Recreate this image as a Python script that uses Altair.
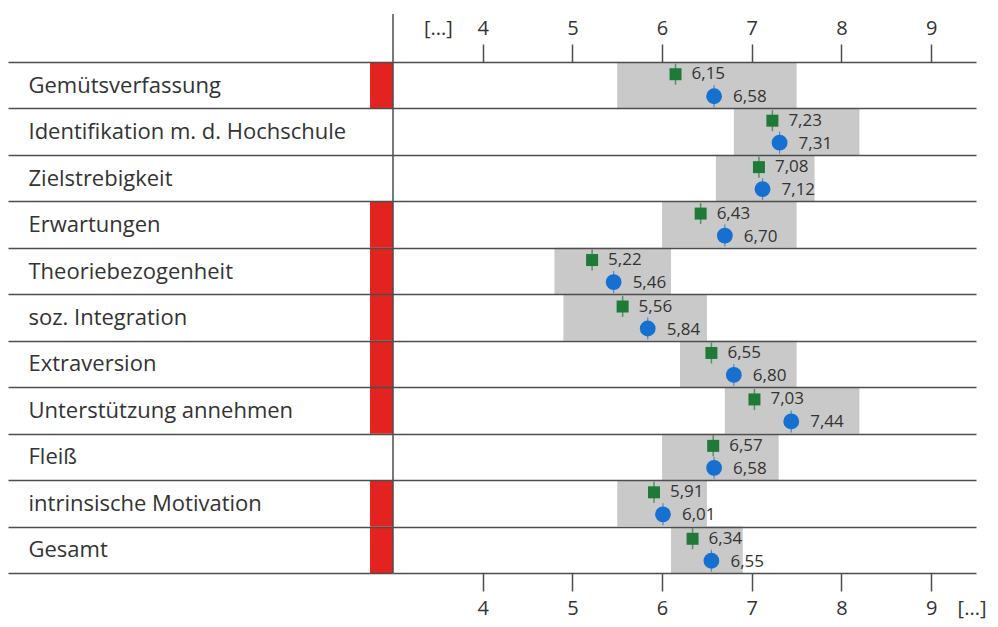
import altair as alt
import pandas as pd

cats = ["Gemütsverfassung", "Identifikation m. d. Hochschule", "Zielstrebigkeit",
        "Erwartungen", "Theoriebezogenheit", "soz. Integration", "Extraversion",
        "Unterstützung annehmen", "Fleiß", "intrinsische Motivation", "Gesamt"]
green_vals = [6.15, 7.23, 7.08, 6.43, 5.22, 5.56, 6.55, 7.03, 6.57, 5.91, 6.34]
blue_vals = [6.58, 7.31, 7.12, 6.70, 5.46, 5.84, 6.80, 7.44, 6.58, 6.01, 6.55]
band_lo = [5.5, 6.8, 6.6, 6.0, 4.8, 4.9, 6.2, 6.7, 6.0, 5.5, 6.1]
band_hi = [7.5, 8.2, 7.7, 7.5, 6.1, 6.5, 7.5, 8.2, 7.3, 6.5, 6.9]
flag = [1, 0, 0, 1, 1, 1, 1, 1, 0, 1, 1]
top_ticks = [3.5, 4, 5, 6, 7, 8, 9]
bottom_ticks = [4, 5, 6, 7, 8, 9, 9.45]

df = pd.DataFrame({
    "cat": cats,
    "green": green_vals,
    "blue": blue_vals,
    "lo": band_lo,
    "hi": band_hi,
    "flag": flag,
    "glab": [f"{v:.2f}".replace(".", ",") for v in green_vals],
    "blab": [f"{v:.2f}".replace(".", ",") for v in blue_vals],
})

FONT = "Open Sans"
LINE = "#4d4d4d"
TXT = "#333333"
GREEN = "#1f7a38"
BLUE = "#1670d0"
RED = "#e32320"
GRAY = "#c9c9c9"

xs = alt.Scale(domain=[3, 9.5], nice=False, zero=False)
ys = alt.Scale(paddingInner=0, paddingOuter=0)

y_axis = alt.Axis(
    orient="left", domain=False, ticks=True, tickBand="extent", tickSize=385,
    tickColor=LINE, tickWidth=1.5, grid=True, gridColor=LINE, gridWidth=1.5,
    labelAlign="left", labelBaseline="middle", labelPadding=-20,
    labelFont=FONT, labelFontSize=22, labelColor=TXT, labelLimit=400, zindex=1,
    title=None,
)

top_axis = alt.Axis(
    orient="top", values=top_ticks, domain=False, grid=False,
    labelExpr="datum.value == 3.5 ? '[...]' : datum.label",
    tickOpacity={"condition": {"test": "datum.value == 3.5", "value": 0}, "value": 1},
    tickSize=18, tickColor=LINE, tickWidth=1.5,
    labelFont=FONT, labelFontSize=20, labelColor=TXT, labelPadding=10,
    labelBaseline="alphabetic", labelFlush=False, labelOverlap=False, title=None,
)

bottom_axis = alt.Axis(
    orient="bottom", values=bottom_ticks, domain=False, grid=False,
    labelExpr="datum.value > 9.2 ? '[...]' : datum.label",
    tickOpacity={"condition": {"test": "datum.value > 9.2", "value": 0}, "value": 1},
    tickSize=18, tickColor=LINE, tickWidth=1.5,
    labelFont=FONT, labelFontSize=20, labelColor=TXT, labelPadding=7,
    labelFlush=False, labelOverlap=False, title=None,
)

base = alt.Chart(df)
Y = alt.Y("cat:N", sort=cats, scale=ys, axis=y_axis)

bands = base.mark_rect(color=GRAY).encode(
    x=alt.X("lo:Q", scale=xs, axis=top_axis),
    x2="hi:Q",
    y=Y,
)

flags = base.transform_filter("datum.flag == 1").mark_rect(color=RED).encode(
    x=alt.value(-23), x2=alt.value(0), y=Y,
)

vline = alt.Chart(pd.DataFrame({"v": [3]})).mark_rule(color=LINE, strokeWidth=1.5).encode(
    x=alt.X("v:Q", scale=xs, axis=None), y=alt.value(-48), y2=alt.value(511),
)

g_tick = base.mark_tick(color=GREEN, orient="vertical", size=21, thickness=1.5, yOffset=-11).encode(
    x=alt.X("green:Q", scale=xs, axis=bottom_axis), y=Y,
)
g_sq = base.mark_square(color=GREEN, size=144, opacity=1, yOffset=-11).encode(
    x=alt.X("green:Q", scale=xs, axis=None), y=Y,
)
b_tick = base.mark_tick(color=BLUE, orient="vertical", size=22, thickness=1.2, yOffset=11).encode(
    x=alt.X("blue:Q", scale=xs, axis=None), y=Y,
)
b_circ = base.mark_circle(color=BLUE, size=250, opacity=1, yOffset=11).encode(
    x=alt.X("blue:Q", scale=xs, axis=None), y=Y,
)
g_txt = base.mark_text(align="left", baseline="middle", dx=16, dy=-11, font=FONT,
                       fontSize=17, color=TXT).encode(
    x=alt.X("green:Q", scale=xs, axis=None), y=Y, text="glab:N",
)
b_txt = base.mark_text(align="left", baseline="middle", dx=19, dy=12, font=FONT,
                       fontSize=17, color=TXT).encode(
    x=alt.X("blue:Q", scale=xs, axis=None), y=Y, text="blab:N",
)

chart = alt.layer(bands, flags, vline, g_tick, g_sq, b_tick, b_circ, g_txt, b_txt).resolve_scale(
    x="shared", y="shared"
).resolve_axis(x="independent").properties(
    width=583, height=511,
    autosize=alt.AutoSizeParams(type="none"),
    padding={"left": 385, "top": 54, "right": 14, "bottom": 46},
    background="white",
).configure_view(stroke=None)

chart.save("out.html", embed_options={"renderer": "svg", "actions": False})
